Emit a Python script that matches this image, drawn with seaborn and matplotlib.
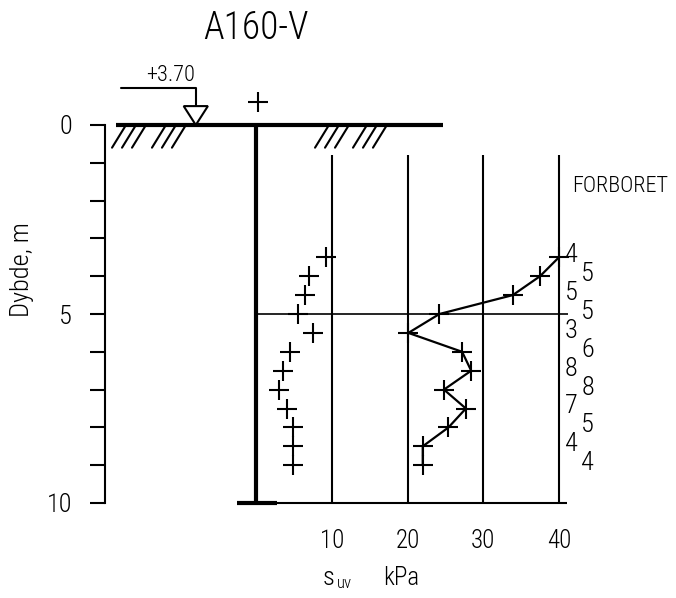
import matplotlib
matplotlib.use('Agg')
import matplotlib.pyplot as plt
import pandas as pd
import seaborn as sns

# vingeboring A160-V
depth = [3.5, 4.0, 4.5, 5.0, 5.5, 6.0, 6.5, 7.0, 7.5, 8.0, 8.5, 9.0]
su_intact = [40.0, 37.5, 33.9, 24.2, 20.1, 27.2, 28.4, 24.8, 27.7, 25.4, 22.0, 22.0]
su_remoulded = [9.2, 6.9, 6.4, 5.5, 7.5, 4.5, 3.5, 3.0, 4.0, 4.9, 4.9, 4.9]
sensitivity = [4, 5, 5, 5, 3, 6, 8, 8, 7, 5, 4, 4]
kpa_ticks = [10, 20, 30, 40]
depth_ticks = [0, 5, 10]
ground_level = '+3.70'
water_x = -8.0
predrilled_to = 5.0

df = pd.DataFrame({'depth': depth, 'su': su_intact, 'sur': su_remoulded})

sns.set_style('white')
plt.rcParams['font.family'] = ['Roboto Condensed', 'DejaVu Sans']
plt.rcParams['font.weight'] = 'light'
plt.rcParams['text.color'] = 'black'
plt.rcParams['xtick.color'] = 'black'
plt.rcParams['ytick.color'] = 'black'

fig = plt.figure(figsize=(6.76, 5.98), dpi=100)
ax = fig.add_axes([105 / 676, 95 / 598, 529.6 / 676, 378 / 598])

sns.scatterplot(data=df, x='sur', y='depth', marker='+', s=196, color='black',
                linewidth=1.5, legend=False, ax=ax, zorder=4)
sns.lineplot(data=df, x='su', y='depth', sort=False, estimator=None, color='black',
             lw=1.6, marker='+', markersize=14, markeredgewidth=1.5,
             markeredgecolor='black', ax=ax, zorder=4)

ax.set_xlim(-20, 50)
ax.set_ylim(10, 0)
ax.set_xlabel('')
ax.set_ylabel('')

# grid, borehole, ground
ax.vlines(kpa_ticks, 0.8, 10, color='black', lw=1.5)
ax.hlines(predrilled_to, 0, 41.2, color='black', lw=1.2)
ax.vlines(0, 0, 10, color='black', lw=3, clip_on=False)
ax.hlines(10, -2.5, 41.0, color='black', lw=1.5, clip_on=False)
ax.hlines(10, -2.5, 2.7, color='black', lw=3, clip_on=False)
ax.hlines(0, -18.6, 24.7, color='black', lw=3, clip_on=False)

for g in [-19.07, -13.79, 7.76, 12.78]:
    for k in range(3):
        x0 = g + k * 1.32
        ax.plot([x0 + 1.72, x0], [0.04, 0.6], color='black', lw=1.5, clip_on=False)

# water level symbol
tri = plt.Polygon([(water_x, 0), (water_x - 1.6, -0.5), (water_x + 1.6, -0.5)],
                  closed=True, facecolor='white', edgecolor='black', lw=1.5,
                  clip_on=False, zorder=5)
ax.add_patch(tri)
ax.plot([-17.9, water_x, water_x], [-0.98, -0.98, -0.5], color='black', lw=1.5,
        clip_on=False)
ax.text(water_x - 0.1, -1.16, ground_level, ha='right', va='baseline', fontsize=16)

ax.plot([0.2], [-0.61], marker='+', ms=14, mew=1.5, color='black', clip_on=False)

ax.text(0, -2.28, 'A160-V', ha='center', va='baseline', fontsize=27)
ax.text(41.7, 1.77, 'FORBORET', ha='left', va='baseline', fontsize=16)

for i, (d, st) in enumerate(zip(depth, sensitivity)):
    xs = 41.6 if i % 2 == 0 else 43.8
    ax.text(xs, d + 0.13, str(st), ha='center', va='baseline', fontsize=19)

ax.text(8.8, 12.17, 's', ha='left', va='baseline', fontsize=19)
ax.text(10.7, 12.25, 'uv', ha='left', va='baseline', fontsize=12)
ax.text(16.75, 12.17, 'kPa', ha='left', va='baseline', fontsize=18)

fig.text(22 / 676, 1 - 270 / 598, 'Dybde, m', rotation=90, ha='center',
         va='center', fontsize=19)

ax.set_xticks(kpa_ticks)
ax.set_yticks(depth_ticks)
ax.set_yticks(range(11), minor=True)
ax.tick_params(axis='x', length=0, pad=19, labelsize=18)
ax.tick_params(axis='y', which='both', direction='out', length=10.8, width=1.5,
               pad=13, labelsize=19, left=True)
for s in ['top', 'right', 'bottom']:
    ax.spines[s].set_visible(False)
ax.spines['left'].set_linewidth(1.5)
ax.spines['left'].set_color('black')
ax.patch.set_alpha(0)

fig.savefig('out.png', dpi=100)
